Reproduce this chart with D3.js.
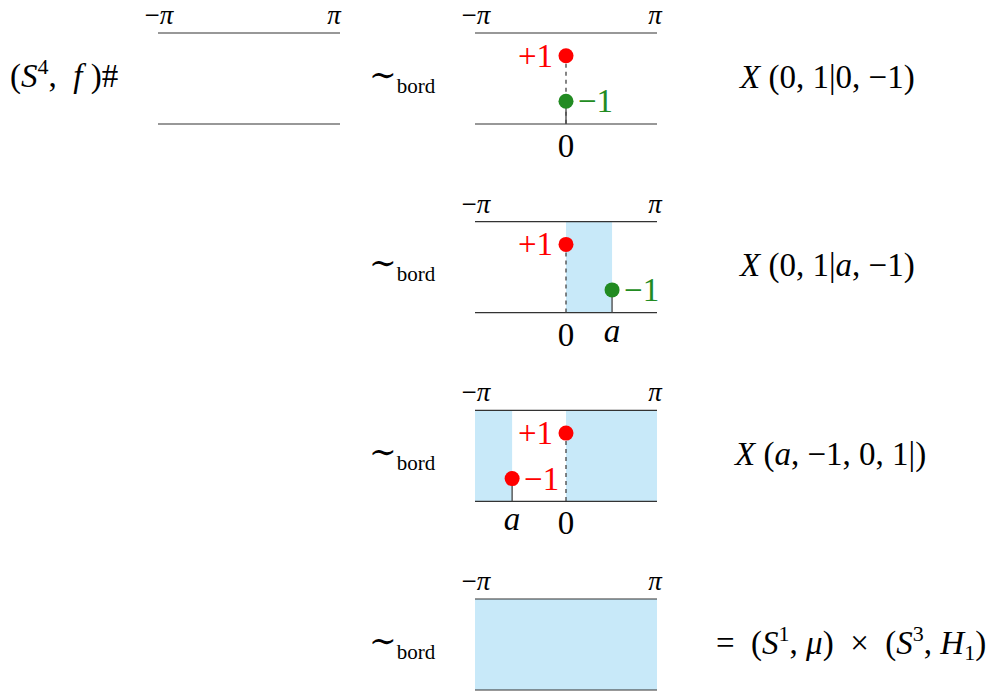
<!DOCTYPE html>
<html>
<head>
<meta charset="utf-8">
<script src="https://cdn.jsdelivr.net/npm/d3@7"></script>
<style>
  body { margin: 0; background: #fff; }
  text { font-family: "Liberation Serif", "DejaVu Serif", serif; white-space: pre; }
</style>
</head>
<body>
<div id="chart"></div>
<script>
// --- data ---
var rows = [0, 1, 2, 3];
var aRow1 = 1.59;     // a > 0 in the second strip
var aRow2 = -1.86;    // a < 0 in the third strip
var shaded = [
  [],
  [[0, aRow1]],
  [[-Math.PI, aRow2], [0, Math.PI]],
  [[-Math.PI, Math.PI]]
];
var points = [
  {row: 0, x: 0,     y: 1,  label: "+1", color: "#ff0000"},
  {row: 0, x: 0,     y: -1, label: "\u22121", color: "#228b22"},
  {row: 1, x: 0,     y: 1,  label: "+1", color: "#ff0000"},
  {row: 1, x: aRow1, y: -1, label: "\u22121", color: "#228b22"},
  {row: 2, x: 0,     y: 1,  label: "+1", color: "#ff0000"},
  {row: 2, x: aRow2, y: -1, label: "\u22121", color: "#ff0000"}
];
var ticks = [
  {row: 0, x: 0, label: "0", italic: false},
  {row: 1, x: 0, label: "0", italic: false},
  {row: 1, x: aRow1, label: "a", italic: true},
  {row: 2, x: aRow2, label: "a", italic: true},
  {row: 2, x: 0, label: "0", italic: false}
];

var width = 991, height = 694;
var stripH = 91;

var svg = d3.select("#chart").append("svg")
    .attr("width", width)
    .attr("height", height);

var x = d3.scaleLinear().domain([-Math.PI, Math.PI]).range([475, 657]);
var x0 = d3.scaleLinear().domain([-Math.PI, Math.PI]).range([158, 340]);
var rowTop = d3.scaleLinear().domain([0, 3]).range([33, 599]);
var y = d3.scaleLinear().domain([-2, 2]).range([stripH, 0]);

var minusPi = "\u2212<tspan font-style='italic'>\u03c0</tspan>";
var piSize = 27, piY = -9;

// the lone strip on the left
var g0 = svg.append("g").attr("transform", "translate(0," + rowTop(0) + ")");
g0.selectAll("line.edge")
    .data([0, stripH])
    .enter().append("line")
    .attr("x1", x0(-Math.PI)).attr("x2", x0(Math.PI))
    .attr("y1", function (d) { return d; }).attr("y2", function (d) { return d; })
    .attr("stroke", "#333").attr("stroke-width", 1.2);
g0.append("text").attr("x", x0(-Math.PI) + 1).attr("y", piY)
    .attr("text-anchor", "middle").attr("font-size", piSize)
    .html(minusPi);
g0.append("text").attr("x", x0(Math.PI) - 6).attr("y", piY)
    .attr("text-anchor", "middle").attr("font-size", piSize).attr("font-style", "italic")
    .text("\u03c0");

svg.append("text").attr("x", 10).attr("y", 87).attr("font-size", 33)
    .html("(<tspan font-style='italic'>S</tspan><tspan font-size='22' dy='-13'>4</tspan><tspan dy='13'>,  </tspan><tspan font-style='italic'>f</tspan> )#");

// the four strips on the right
var strips = svg.selectAll("g.strip")
    .data(rows)
    .enter().append("g")
    .attr("class", "strip")
    .attr("transform", function (d) { return "translate(0," + rowTop(d) + ")"; });

strips.selectAll("rect")
    .data(function (d) { return shaded[d]; })
    .enter().append("rect")
    .attr("x", function (d) { return x(d[0]); })
    .attr("width", function (d) { return x(d[1]) - x(d[0]); })
    .attr("y", 0).attr("height", stripH)
    .attr("fill", "#c8e9f9");

strips.selectAll("line.edge")
    .data([0, stripH])
    .enter().append("line")
    .attr("class", "edge")
    .attr("x1", x(-Math.PI)).attr("x2", x(Math.PI))
    .attr("y1", function (d) { return d; }).attr("y2", function (d) { return d; })
    .attr("stroke", "#333").attr("stroke-width", 1.2);

strips.append("text").attr("x", x(-Math.PI) + 1).attr("y", piY)
    .attr("text-anchor", "middle").attr("font-size", piSize)
    .html(minusPi);
strips.append("text").attr("x", x(Math.PI) - 2).attr("y", piY)
    .attr("text-anchor", "middle").attr("font-size", piSize).attr("font-style", "italic")
    .text("\u03c0");

strips.append("text")
    .attr("x", 369).attr("y", stripH / 2 + 7)
    .attr("font-size", 33)
    .html("\u223c<tspan font-size='21' dy='7'>bord</tspan>");

// stems from dots down to the lower edge
var stemG = svg.append("g");
points.forEach(function (p) {
  stemG.append("line")
      .attr("x1", x(p.x)).attr("x2", x(p.x))
      .attr("y1", rowTop(p.row) + y(p.y))
      .attr("y2", rowTop(p.row) + stripH)
      .attr("stroke", "#444").attr("stroke-width", 1.3)
      .attr("stroke-dasharray", p.y > 0 ? "4,4" : null);
});

var dots = svg.selectAll("g.pt")
    .data(points)
    .enter().append("g")
    .attr("class", "pt")
    .attr("transform", function (d) {
      return "translate(" + x(d.x) + "," + (rowTop(d.row) + y(d.y)) + ")";
    });
dots.append("circle").attr("r", 7.5).attr("fill", function (d) { return d.color; });
dots.append("text")
    .attr("x", function (d) { return d.y > 0 ? -13 : 12; })
    .attr("y", 11)
    .attr("text-anchor", function (d) { return d.y > 0 ? "end" : "start"; })
    .attr("font-size", 33)
    .attr("fill", function (d) { return d.color; })
    .text(function (d) { return d.label; });

svg.selectAll("text.tick")
    .data(ticks)
    .enter().append("text")
    .attr("class", "tick")
    .attr("x", function (d) { return x(d.x); })
    .attr("y", function (d) { return rowTop(d.row) + stripH + (d.italic ? 29 : 33); })
    .attr("text-anchor", "middle")
    .attr("font-size", 33)
    .attr("font-style", function (d) { return d.italic ? "italic" : "normal"; })
    .text(function (d) { return d.label; });

// right column formulas
var formulas = [
  "<tspan font-style='italic'>X</tspan> (0, 1|0, \u22121)",
  "<tspan font-style='italic'>X</tspan> (0, 1|<tspan font-style='italic'>a</tspan>, \u22121)",
  "<tspan font-style='italic'>X</tspan> (<tspan font-style='italic'>a</tspan>, \u22121, 0, 1|)",
  "=  (<tspan font-style='italic'>S</tspan><tspan font-size='22' dy='-13'>1</tspan><tspan dy='13'>, </tspan><tspan font-style='italic'>\u03bc</tspan>)  \u00d7  (<tspan font-style='italic'>S</tspan><tspan font-size='22' dy='-13'>3</tspan><tspan dy='13'>, </tspan><tspan font-style='italic'>H</tspan><tspan font-size='22' dy='6'>1</tspan><tspan dy='-6'>)</tspan>"
];
var fx = [740, 740, 735, 716];
svg.selectAll("text.formula")
    .data(formulas)
    .enter().append("text")
    .attr("class", "formula")
    .attr("x", function (d, i) { return fx[i]; })
    .attr("y", function (d, i) { return rowTop(i) + stripH / 2 + 9; })
    .attr("font-size", 33)
    .html(function (d) { return d; });
</script>
</body>
</html>
